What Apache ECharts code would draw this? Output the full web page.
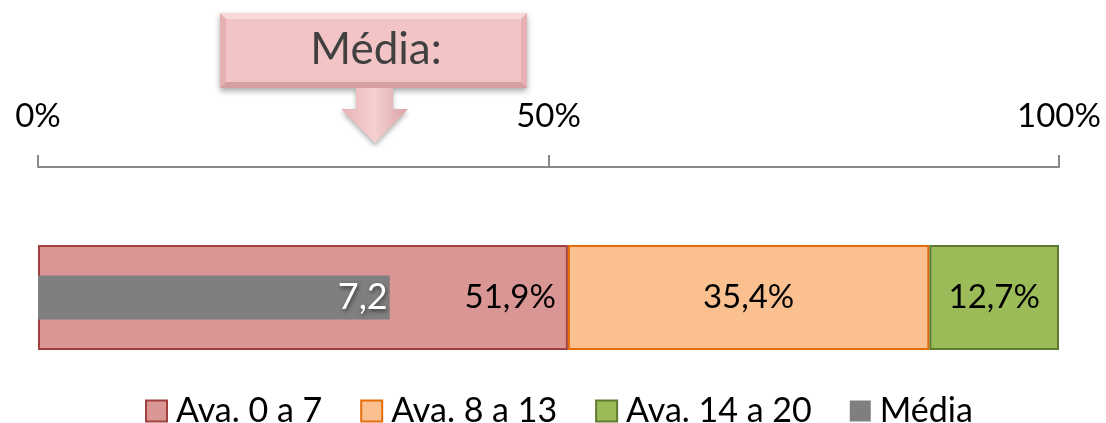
<!DOCTYPE html>
<html>
<head>
<meta charset="utf-8">
<script src="https://cdn.jsdelivr.net/npm/echarts@6/dist/echarts.min.js"></script>
<style>
    html, body { margin: 0; padding: 0; background: #fff; }
    #chart { width: 1106px; height: 423px; }
</style>
</head>
<body>
<div id="chart"></div>
<script>
// dados do gráfico
let categorias = ['Avaliação'];
let faixas = ['Ava. 0 a 7', 'Ava. 8 a 13', 'Ava. 14 a 20'];
let percentagens = [51.9, 35.4, 12.7];
let media = [7.2];
let ticksPct = [0, 50, 100];

let cores = ['#d99694', '#fac090', '#9bbb59'];
let bordas = ['#a0403e', '#e46c0a', '#5f7b30'];
let fonte = 'Lato, "Open Sans", sans-serif';

function pt(v) {
    return v.toFixed(1).replace('.', ',');
}

let domObj = document.getElementById('chart');
let chart = echarts.init(domObj);

let series = faixas.map(function (nome, i) {
    return {
        name: nome,
        type: 'bar',
        stack: 'total',
        xAxisIndex: 0,
        yAxisIndex: 0,
        barWidth: 105,
        data: [percentagens[i]],
        itemStyle: {
            color: cores[i],
            borderColor: bordas[i],
            borderWidth: 2,
        },
        label: {
            show: true,
            position: i === 0 ? 'insideRight' : 'inside',
            distance: 12,
            color: '#000',
            fontFamily: fonte,
            fontSize: 33,
            formatter: function (p) {
                return pt(p.value) + '%';
            },
        },
        z: 2,
    };
});

series.push({
    name: 'Média',
    type: 'bar',
    xAxisIndex: 1,
    yAxisIndex: 1,
    barWidth: 44,
    data: media,
    itemStyle: { color: '#7f7f7f' },
    label: {
        show: true,
        position: 'insideRight',
        distance: 2,
        color: '#fff',
        fontFamily: fonte,
        fontSize: 36,
        textShadowColor: 'rgba(0,0,0,0.55)',
        textShadowBlur: 4,
        textShadowOffsetX: 1,
        textShadowOffsetY: 2,
        formatter: function (p) {
            return pt(p.value);
        },
    },
    z: 5,
});

// seta "Média:"
let graphic = [
    {
        type: 'rect',
        shape: { x: 220, y: 13, width: 307, height: 75 },
        style: { fill: '#e7b0b3', shadowColor: 'rgba(0,0,0,0.35)', shadowBlur: 6, shadowOffsetY: 3 },
        z: 10,
    },
    {
        type: 'polygon',
        shape: { points: [[220, 13], [527, 13], [521, 19], [226, 19]] },
        style: { fill: '#f8dadb' },
        z: 11,
    },
    {
        type: 'polygon',
        shape: { points: [[220, 88], [527, 88], [521, 82], [226, 82]] },
        style: { fill: '#d6a0a3' },
        z: 11,
    },
    {
        type: 'rect',
        shape: { x: 226, y: 19, width: 295, height: 63 },
        style: { fill: '#f3c4c6' },
        z: 11,
    },
    {
        type: 'polygon',
        shape: { points: [[356, 88], [393, 88], [393, 109], [408, 109], [375, 143], [341, 109], [356, 109]] },
        style: {
            fill: new echarts.graphic.LinearGradient(0, 0, 1, 0, [
                { offset: 0, color: '#e8b2b5' },
                { offset: 0.5, color: '#f6d0d2' },
                { offset: 1, color: '#d9a2a5' },
            ]),
            shadowColor: 'rgba(0,0,0,0.3)',
            shadowBlur: 5,
            shadowOffsetY: 3,
        },
        z: 10,
    },
    {
        type: 'text',
        style: {
            x: 376,
            y: 50,
            text: 'Média:',
            align: 'center',
            verticalAlign: 'middle',
            fill: '#404040',
            font: '44px ' + fonte,
        },
        z: 12,
    },
];

let opts = {
    animation: false,
    textStyle: { fontFamily: fonte },
    legend: {
        data: faixas.concat(['Média']),
        left: 145,
        top: 394,
        padding: 0,
        itemWidth: 21,
        itemHeight: 21,
        itemGap: 38,
        icon: 'rect',
        textStyle: { fontSize: 34, color: '#000', fontFamily: fonte, lineHeight: 30, padding: [0, 0, 0, 4] },
    },
    grid: [
        { left: 38, right: 47, top: 245, height: 105 },
        { left: 38, right: 47, top: 245, height: 105 },
    ],
    xAxis: [
        {
            type: 'value',
            gridIndex: 0,
            position: 'top',
            offset: 78,
            min: ticksPct[0],
            max: ticksPct[ticksPct.length - 1],
            interval: ticksPct[1] - ticksPct[0],
            axisLine: { show: true, lineStyle: { color: '#898989', width: 2 } },
            axisTick: { show: true, length: 12, lineStyle: { color: '#898989', width: 2 } },
            splitLine: { show: false },
            axisLabel: {
                margin: 34,
                fontSize: 33,
                color: '#000',
                fontFamily: fonte,
                formatter: '{value}%',
            },
        },
        {
            type: 'value',
            gridIndex: 1,
            min: 0,
            max: 20.9,
            show: false,
        },
    ],
    yAxis: [
        { type: 'category', gridIndex: 0, data: categorias, show: false },
        { type: 'category', gridIndex: 1, data: categorias, show: false },
    ],
    graphic: graphic,
    series: series,
};

chart.setOption(opts, true);
</script>
</body>
</html>
